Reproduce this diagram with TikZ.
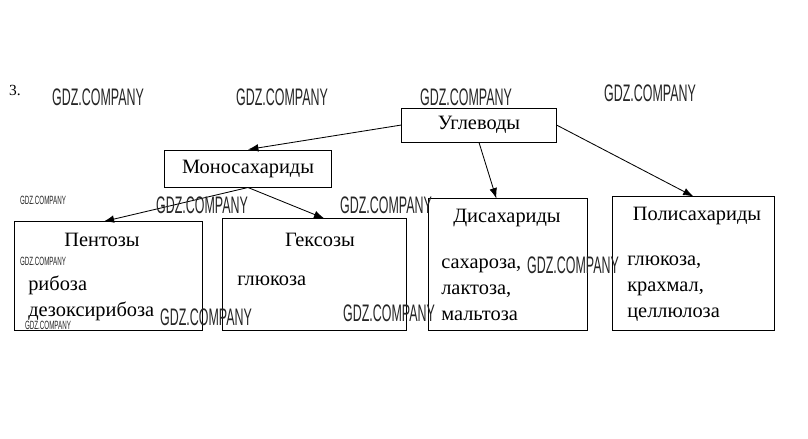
\documentclass[tikz,border=0pt]{standalone}
\usepackage{fontspec}
\setmainfont{Liberation Serif}
\newfontfamily\wmfont{Liberation Sans}[FakeStretch=0.52]
\usetikzlibrary{arrows.meta,positioning,calc}

\begin{document}
\begin{tikzpicture}[x=0.025cm,y=-0.025cm,>={Latex[length=2.6mm,width=1.9mm]},
    box/.style={draw,line width=0.7pt,inner sep=0pt},
    title/.style={font=\fontsize{14.5}{17}\selectfont,inner sep=0pt},
    items/.style={font=\fontsize{14.5}{18.5}\selectfont,align=left,anchor=west,inner sep=0pt},
    link/.style={->,line width=0.6pt},
    wmbig/.style={font=\wmfont\fontsize{17}{17}\selectfont,text=black!85,inner sep=0pt},
    wmsmall/.style={font=\wmfont\fontsize{8.5}{8.5}\selectfont,text=black!85,inner sep=0pt}]
  \useasboundingbox[fill=white] (0,0) rectangle (808,439);

  \node[font=\fontsize{11}{11}\selectfont,inner sep=0pt] (num) at (15,90) {3.};

  % boxes
  \node[box,minimum width=3.85cm,minimum height=0.85cm] (carb) at (479,125) {};
  \node[box,minimum width=4.15cm,minimum height=0.925cm] (mono) at (248,168.5) {};
  \node[box,minimum width=4.675cm,minimum height=2.7cm] (pent) at (108.5,276) {};
  \node[box,minimum width=4.575cm,minimum height=2.775cm] (hex) at (314.5,274.5) {};
  \node[box,minimum width=3.95cm,minimum height=3.275cm] (di) at (508,264.5) {};
  \node[box,minimum width=4.025cm,minimum height=3.325cm] (poly) at (693.5,263.5) {};

  % titles
  \node[title] (carbT) at (carb.center) {Углеводы};
  \node[title] (monoT) at (mono.center) {Моносахариды};
  \node[title] (pentT) at (102,240) {Пентозы};
  \node[title] (hexT) at (320,240) {Гексозы};
  \node[title] (diT) at (507,218) {Дисахариды};
  \node[title] (polyT) at (697,216) {Полисахариды};

  % contents
  \node[items] (pentL) at (28,298) {рибоза\\дезоксирибоза};
  \node[items] (hexL) at (237,281) {глюкоза};
  \node[items] (diL) at (441,290) {сахароза,\\лактоза,\\мальтоза};
  \node[items] (polyL) at (627,289) {глюкоза,\\крахмал,\\целлюлоза};

  % arrows
  \draw[link] (carb.west) -- (mono.north);
  \draw[link] (carb.south) -- (di.100);
  \draw[link] (carb.east) -- (poly.north);
  \draw[link] (mono.south) -- (pent.95);
  \draw[link] (mono.south) -- (hex.80);

  % watermarks
  \foreach \p [count=\i] in {(98,97),(282,97),(466,97),(650,93),(202,205),
      (386,205),(573,265),(206,317),(389,313)}
    \node[wmbig] (wm\i) at \p {GDZ.COMPANY};
  \foreach \p [count=\i] in {(43,200),(43,261),(48,325)}
    \node[wmsmall] (wms\i) at \p {GDZ.COMPANY};
\end{tikzpicture}
\end{document}
